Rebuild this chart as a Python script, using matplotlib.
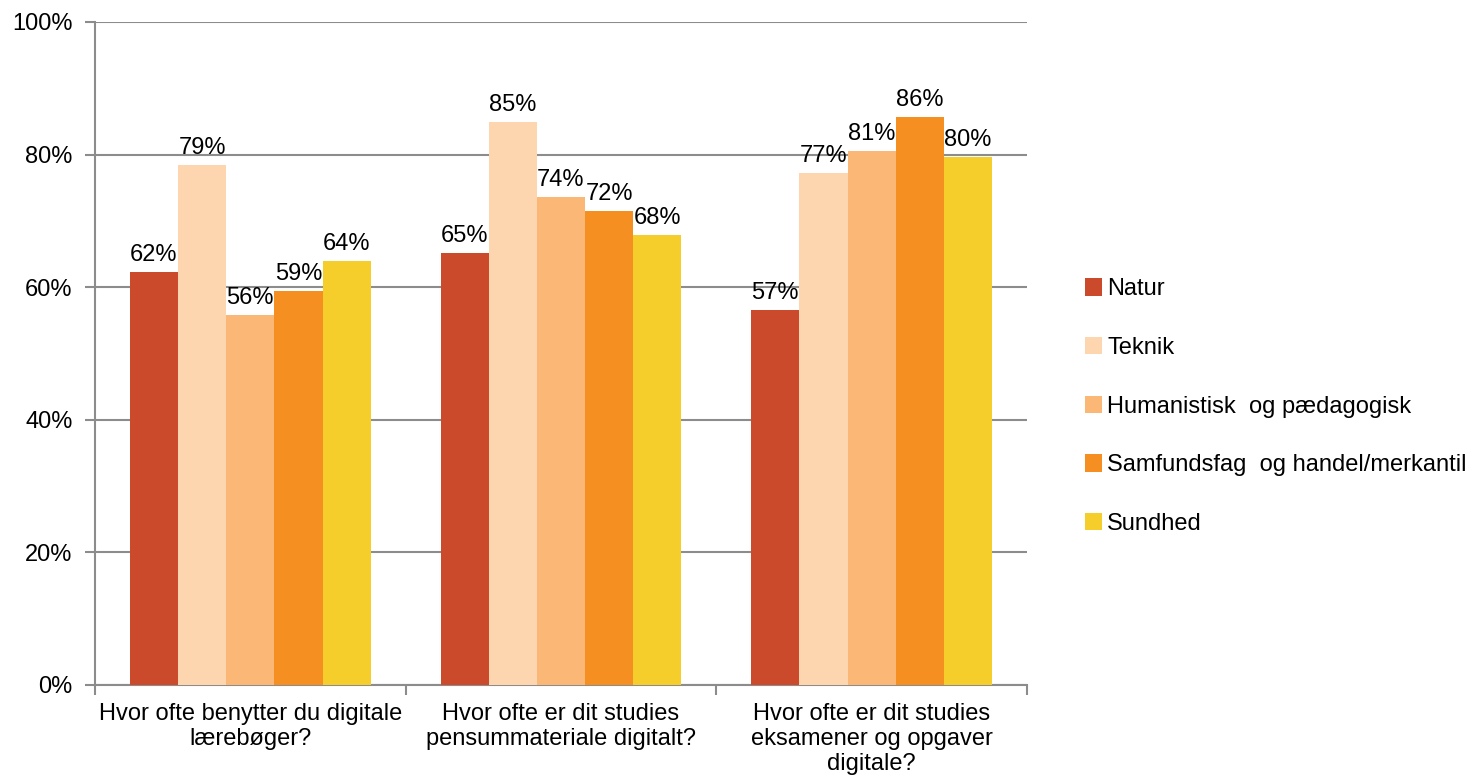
import matplotlib
matplotlib.use('Agg')
from matplotlib import pyplot as plt
import numpy as np

plt.rcParams['font.family'] = ['Liberation Sans', 'DejaVu Sans']

# data
questions = ['Hvor ofte benytter du digitale\nlærebøger?',
             'Hvor ofte er dit studies\npensummateriale digitalt?',
             'Hvor ofte er dit studies\neksamener og opgaver\ndigitale?']
series = ['Natur', 'Teknik', 'Humanistisk  og pædagogisk',
          'Samfundsfag  og handel/merkantil', 'Sundhed']
natur = [62.3, 65.2, 56.6]
teknik = [78.4, 84.9, 77.2]
humanistisk = [55.8, 73.6, 80.5]
samfund = [59.4, 71.5, 85.7]
sundhed = [63.9, 67.9, 79.6]
labels = [['62%', '65%', '57%'],
          ['79%', '85%', '77%'],
          ['56%', '74%', '81%'],
          ['59%', '72%', '86%'],
          ['64%', '68%', '80%']]
colors = ['#CC4A2C', '#FDD6B0', '#FBB775', '#F58F22', '#F5CE2B']

values = [natur, teknik, humanistisk, samfund, sundhed]

fig = plt.figure(figsize=(14.72, 7.79), dpi=100)
ax = fig.add_axes([0.0645, 0.1207, 0.6332, 0.8511])

fs = 17
x = np.arange(len(questions))
w = 0.155
for i, vals in enumerate(values):
    pos = x + (i - 2) * w
    ax.bar(pos, vals, width=w, color=colors[i], label=series[i], zorder=3)
    for p, v, t in zip(pos, vals, labels[i]):
        ax.text(p, v + 0.9, t, ha='center', va='bottom', fontsize=fs, zorder=4)

ax.set_ylim(0, 100)
ax.set_xlim(-0.5, 2.5)
ax.set_yticks(np.arange(0, 101, 20))
ax.set_yticklabels(['%d%%' % v for v in range(0, 101, 20)], fontsize=fs)
ax.yaxis.grid(True, color='#8c8c8c', linewidth=1.5, zorder=0)

ax.set_xticks([-0.5, 0.5, 1.5, 2.5])
ax.set_xticklabels([])
ax.set_xticks(x, minor=True)
ax.set_xticklabels(questions, minor=True, fontsize=fs, linespacing=1.18)
ax.tick_params(axis='x', which='minor', length=0, pad=13)
ax.tick_params(axis='x', which='major', length=7, width=1.5, color='#8c8c8c')
ax.tick_params(axis='y', length=7, width=1.5, color='#8c8c8c', pad=9)

for s in ['top', 'right']:
    ax.spines[s].set_visible(False)
for s in ['left', 'bottom']:
    ax.spines[s].set_color('#8c8c8c')
    ax.spines[s].set_linewidth(1.5)

ax.legend(loc='center left', bbox_to_anchor=(1.039, 0.42), frameon=False,
          fontsize=fs, handlelength=0.75, handleheight=0.75, handletextpad=0.2,
          labelspacing=1.55)

fig.savefig('out.png', dpi=100)
